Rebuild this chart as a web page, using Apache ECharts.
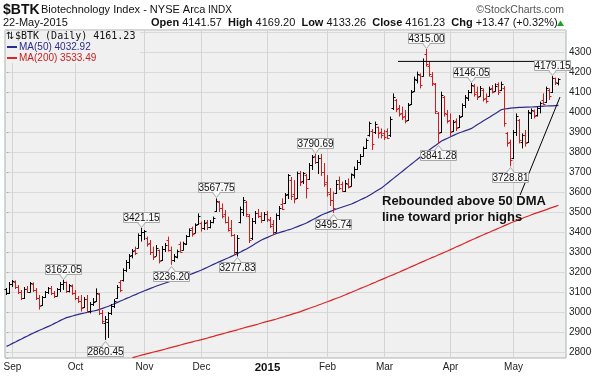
<!DOCTYPE html>
<html><head><meta charset="utf-8">
<script src="https://cdn.jsdelivr.net/npm/echarts@6/dist/echarts.min.js"></script>
<style>html,body{margin:0;padding:0;background:#fff}#c{width:599px;height:379px}</style>
</head><body><div id="c"></div>
<script>
// ---- data (index 0 = 28-Aug-2014 ... index 184 = 22-May-2015) ----
const open = [3112,3095,3140,3150,3125,3100,3070,3112,3100,3140,
3108,3070,3035,3075,3098,3118,3095,3080,3112,3140,
3148,3105,3130,3095,3070,3055,3025,3065,3005,3040,
3055,3090,2995,2945,2950,2995,3030,3070,3150,3160,
3210,3250,3285,3310,3320,3385,3400,3370,3345,3300,
3280,3310,3260,3315,3360,3310,3260,3275,3340,3310,
3340,3380,3420,3395,3440,3445,3420,3450,3425,3450,
3505,3550,3520,3490,3450,3420,3385,3300,3450,3500,
3550,3480,3370,3455,3495,3480,3460,3490,3460,3440,
3400,3485,3540,3545,3590,3660,3590,3570,3690,3655,
3680,3665,3735,3780,3750,3770,3700,3650,3590,3560,
3595,3660,3640,3605,3640,3630,3680,3715,3750,3780,
3820,3880,3905,3895,3925,3900,3890,3905,3880,4020,
4060,4020,3995,3980,3960,4040,4105,4160,4185,4180,
4290,4230,4180,4140,3995,3900,4075,3990,3960,3905,
3955,3925,3980,4035,4070,4100,4130,4100,4080,4110,
4070,4080,4120,4105,4140,4110,4120,3890,3850,3770,
3900,3960,3850,3880,3850,3995,4005,3985,4020,4060,
4050,4110,4100,4168,4141.57];
const high = [3120,3150,3160,3158,3135,3110,3125,3130,3150,3148,
3120,3085,3080,3105,3125,3130,3105,3120,3150,3162.05,
3152,3140,3138,3110,3080,3085,3075,3085,3050,3070,
3118,3095,3010,2980,3000,3040,3065,3135,3160,3218,
3260,3290,3315,3327,3393,3421.15,3410,3377,3360,3327,
3335,3312,3330,3345,3377,3327,3290,3312,3352,3352,
3385,3418,3427,3443,3493,3452,3460,3460,3460,3477,
3567.75,3555,3543,3510,3477,3460,3390,3385,3527,3575,
3555,3490,3470,3505,3515,3500,3500,3505,3475,3460,
3493,3530,3568,3595,3690,3675,3660,3702,3705,3700,
3690,3745,3785,3790.69,3785,3790,3745,3685,3620,3602,
3660,3677,3652,3660,3668,3693,3727,3760,3790,3827,
3868,3952,3915,3952,3927,3918,3910,3918,3977,4093,
4065,4035,4027,4010,4045,4110,4177,4202,4193,4268,
4315,4252,4200,4145,4000,4102,4080,4010,3993,3960,
3968,3985,4043,4085,4110,4146.05,4140,4127,4130,4118,
4093,4127,4135,4143,4148,4152,4130,3900,3862,3910,
3993,3965,3893,3910,4010,4018,4012,4027,4052,4093,
4127,4118,4179.15,4172,4169.20];
const low = [3085,3090,3125,3115,3090,3060,3065,3095,3098,3100,
3060,3012,3030,3070,3090,3085,3070,3078,3100,3110,
3095,3098,3085,3060,3045,3002,3020,2995,2993,3030,
3050,2985,2940,2860.45,2870,2985,3020,3065,3100,3152,
3200,3215,3268,3285,3318,3352,3360,3327,3285,3260,
3280,3243,3255,3300,3302,3236.20,3250,3268,3298,3308,
3335,3375,3377,3393,3435,3402,3410,3410,3418,3443,
3500,3500,3468,3443,3402,3377,3285,3277.83,3443,3480,
3475,3345,3360,3440,3470,3445,3455,3450,3420,3385,
3400,3460,3510,3540,3565,3560,3543,3565,3630,3640,
3568,3660,3710,3740,3690,3680,3627,3577,3530,3495.74,
3590,3610,3600,3600,3618,3627,3668,3710,3735,3777,
3815,3877,3810,3890,3868,3868,3860,3865,3875,4010,
4000,3977,3960,3943,3955,4035,4100,4143,4118,4177,
4227,4177,4130,3990,3841.28,3895,3977,3943,3877,3900,
3905,3920,3975,4020,4055,4093,4077,4060,4077,4052,
4043,4077,4093,4102,4085,4105,3927,3827,3728.81,3765,
3880,3843,3818,3827,3845,3965,3968,3977,3993,4035,
4045,4060,4095,4135,4133.26];
const close = [3092,3140,3152,3125,3100,3070,3115,3100,3142,3108,
3070,3030,3075,3098,3118,3095,3080,3112,3140,3150,
3105,3132,3095,3070,3055,3020,3065,3005,3040,3050,
3095,2995,2955,2965,2995,3030,3055,3125,3110,3210,
3250,3280,3305,3295,3385,3400,3405,3340,3300,3275,
3320,3255,3315,3335,3310,3260,3280,3305,3300,3345,
3378,3410,3390,3435,3480,3420,3445,3425,3450,3470,
3555,3520,3480,3450,3410,3385,3300,3370,3515,3560,
3490,3360,3455,3495,3480,3460,3490,3465,3430,3400,
3485,3520,3515,3585,3680,3580,3565,3690,3650,3690,
3620,3735,3775,3750,3770,3700,3640,3600,3560,3520,
3640,3620,3605,3645,3625,3685,3715,3750,3780,3820,
3860,3945,3840,3940,3890,3880,3875,3870,3965,4075,
4015,3990,3975,3955,4035,4100,4165,4190,4135,4255,
4240,4190,4145,4005,3890,4085,3995,3955,3900,3950,
3920,3975,4035,4075,4100,4135,4090,4075,4120,4065,
4055,4115,4100,4130,4100,4140,3945,3845,3760,3895,
3980,3860,3880,3845,4000,4010,3980,4020,4045,4040,
4120,4080,4170,4147.76,4161.23];
const ma50 = [2828,2835,2843,2850,2858,2865,2873,2880,2888,2895,
2902,2909,2915,2922,2928,2935,2943,2950,2958,2965,
2972,2976,2980,2984,2988,2992,2995,2998,3002,3005,
3008,3013,3018,3024,3029,3035,3041,3048,3055,3061,
3068,3074,3081,3087,3094,3100,3106,3112,3118,3124,
3130,3135,3140,3145,3150,3155,3160,3165,3170,3175,
3180,3186,3192,3198,3204,3210,3217,3224,3231,3238,
3245,3252,3258,3265,3271,3278,3285,3293,3300,3308,
3315,3324,3333,3342,3351,3360,3367,3373,3380,3386,
3393,3397,3402,3406,3411,3415,3421,3427,3433,3439,
3445,3453,3461,3469,3477,3485,3491,3497,3503,3509,
3515,3520,3525,3530,3535,3540,3547,3554,3561,3568,
3575,3584,3593,3602,3611,3620,3632,3644,3656,3668,
3680,3692,3704,3716,3728,3740,3752,3764,3776,3788,
3800,3811,3822,3833,3844,3855,3862,3869,3876,3883,
3890,3896,3901,3907,3912,3918,3927,3937,3946,3956,
3965,3974,3984,3993,4003,4012,4015,4017,4019,4021,
4022,4023,4023,4024,4024,4025,4026,4027,4028,4029,
4030,4031,4031,4032,4032.92];
const ma200Start = 42;
const ma200 = [2772,2776,2780,2784,2788,2792,2796,2800,2803,2807,
2811,2815,2819,2823,2827,2831,2835,2839,2843,2847,2851,2855,
2858,
2862,2866,2870,2874,2878,2883,2887,2891,2895,2899,2903,2907,2911,2916,2920,2924,
2928,
2932,2936,2940,2945,2949,2953,2957,2961,
2965,
2970,2974,2979,2983,2988,2993,
2997,
3002,3008,3013,3019,3024,3029,3035,
3040,
3046,3051,3057,3063,3069,3074,
3080,
3086,3093,3099,3105,3111,3118,3124,
3130,
3136,3143,3149,3156,3162,3168,3175,3181,3187,3194,
3200,
3207,3213,3220,3227,3233,3240,3247,3253,
3260,
3266,3273,3279,3286,3292,3299,3305,
3312,
3319,3326,3332,3339,3346,3353,3360,3366,3373,
3380,
3386,3393,3399,3406,3412,3419,3425,3432,3438,
3445,
3451,3457,3463,3469,3475,3480,3486,
3492,
3497,3502,3507,3512,3518,3523,3528,
3533.49];
const monthIdx = [2,23,46,65,87,107,126,148,169];
const monthLabels = ['Sep','Oct','Nov','Dec','2015','Feb','Mar','Apr','May'];
const yLabels = [2800,2900,3000,3100,3200,3300,3400,3500,3600,3700,3800,3900,4000,4100,4200,4300];
const peakIdx = [19,33,45,55,70,77,103,109,140,144,155,168,182];
const peakVal = [3162.05,2860.45,3421.15,3236.20,3567.75,3277.83,3790.69,3495.74,4315.00,3841.28,4146.05,3728.81,4179.15];
const peakSide = [1,-1,1,-1,1,-1,1,-1,1,-1,1,-1,1];
const resistance = [[130.5,4253],[189.5,4253]];
const trendLine = [[171.2,3585],[184.5,4075]];
const nSlots = 187;

// ---- chart ----
const FONT = '"Liberation Sans", Arial, sans-serif';
const cats = Array.from({length:nSlots},(_,i)=>String(i));
const ohlcData = open.map((o,i)=>[i,o,high[i],low[i],close[i],(i>0 && close[i]<close[i-1])?1:0]);
const ma200Data = cats.map((c,i)=> (i>=ma200Start && i-ma200Start<ma200.length) ? ma200[i-ma200Start] : null);
const chart = echarts.init(document.getElementById('c'));

function T(text,x,y,font,fill,align){
  return {type:'text',z:100,style:{text:text,x:x,y:y,font:font,fill:fill||'#000',
    textAlign:align||'left',align:align||'left',textVerticalAlign:'middle',verticalAlign:'middle'}};
}

chart.setOption({
  animation:false,
  backgroundColor:'#ffffff',
  grid:{left:5,right:33,top:30,bottom:21,show:true,backgroundColor:'#f0f0f0',borderColor:'#a3b5ad',borderWidth:1},
  xAxis:[{
    type:'category',data:cats,boundaryGap:true,
    axisLine:{show:false},axisTick:{show:false},splitLine:{show:false},
    axisLabel:{
      interval:(idx)=>monthIdx.indexOf(idx)>=0,
      formatter:(v,idx)=>{const k=monthIdx.indexOf(idx);if(k<0)return '';return k===4?'{y|2015}':monthLabels[k];},
      margin:4,color:'#222',fontSize:10,fontFamily:FONT,
      rich:{y:{fontWeight:'bold',fontSize:11.5,fontFamily:FONT,color:'#111'}}
    }
  },{type:'value',min:-0.5,max:nSlots-0.5,show:false}],
  yAxis:{
    type:'value',position:'right',min:2770,max:4410,splitNumber:16,
    axisLine:{show:false},
    axisTick:{show:true,length:2,lineStyle:{color:'#a3b5ad'}},
    axisLabel:{margin:3,color:'#222',fontSize:10,fontFamily:FONT,
      formatter:(v)=>yLabels.indexOf(Math.round(v))>=0?String(Math.round(v)):''},
    splitLine:{show:true,lineStyle:{color:'#d9d9d9',width:1}}
  },
  series:[
    { // month grid lines
      type:'custom',z:1,silent:true,data:monthIdx.map(i=>[i]),encode:{x:0},
      renderItem:(params,api)=>{
        const cs=params.coordSys; const x=Math.floor(api.coord([api.value(0),3000])[0])+0.5;
        return {type:'line',shape:{x1:x,y1:cs.y,x2:x,y2:cs.y+cs.height},style:{stroke:'#d4d4d4',lineWidth:1}};
      }
    },
    {type:'line',name:'MA(200)',data:ma200Data,symbol:'none',z:3,lineStyle:{color:'#dd2626',width:1.2},silent:true},
    {type:'line',name:'MA(50)',data:ma50,symbol:'none',z:3,lineStyle:{color:'#2b2b8e',width:1.2},silent:true},
    { // OHLC bars
      type:'custom',z:4,silent:true,data:ohlcData,encode:{x:0,y:[1,2,3,4]},
      renderItem:(params,api)=>{
        const i=api.value(0);
        const pO=api.coord([i,api.value(1)]),pH=api.coord([i,api.value(2)]),pL=api.coord([i,api.value(3)]),pC=api.coord([i,api.value(4)]);
        const x=Math.floor(pO[0])+0.5;
        const col=api.value(5)?'#d41c1c':'#000000';
        const yo=Math.round(pO[1]-0.5)+0.5, yc=Math.round(pC[1]-0.5)+0.5;
        const st={stroke:col,lineWidth:1};
        return {type:'group',children:[
          {type:'line',shape:{x1:x,y1:pH[1],x2:x,y2:pL[1]},style:st},
          {type:'line',shape:{x1:x-2,y1:yo,x2:x,y2:yo},style:st},
          {type:'line',shape:{x1:x,y1:yc,x2:x+2,y2:yc},style:st}
        ]};
      }
    },
    {type:'line',xAxisIndex:1,data:resistance,symbol:'none',clip:false,z:5,silent:true,lineStyle:{color:'#000',width:1}},
    {type:'line',xAxisIndex:1,data:trendLine,symbol:'none',clip:false,z:5,silent:true,lineStyle:{color:'#000',width:1}},
    { // price callouts
      type:'custom',z:6,silent:true,clip:false,
      data:peakIdx.map((i,k)=>[i,peakVal[k],peakSide[k]]),encode:{x:0,y:1},
      renderItem:(params,api)=>{
        const i=api.value(0),v=api.value(1),s=api.value(2);
        const p=api.coord([i,v]);
        const x=Math.floor(p[0])+0.5; const tip=Math.round(p[1])+0.5;
        const w=36,h=10; let tipY,base,top;
        if(s>0){tipY=tip-1;base=tipY-5;top=base-h;}else{tipY=tip+1;base=tipY+5;top=base;}
        const fill='#f7f7f7',stroke='#a9a9a9';
        return {type:'group',children:[
          {type:'rect',shape:{x:x-18,y:top,width:w,height:h},style:{fill:fill,stroke:stroke,lineWidth:1}},
          {type:'polygon',shape:{points:[[x-4,base],[x,tipY],[x+4,base]]},style:{fill:fill,stroke:stroke,lineWidth:1}},
          {type:'line',shape:{x1:x-3,y1:base,x2:x+3,y2:base},style:{stroke:fill,lineWidth:1}},
          {type:'text',style:{text:v.toFixed(2),x:x,y:top+h/2+0.5,font:'10px '+FONT,fill:'#111',
            textAlign:'center',align:'center',textVerticalAlign:'middle',verticalAlign:'middle'}}
        ]};
      }
    }
  ],
  graphic:[
    T('$BTK',3,10,'bold 14px '+FONT,'#111'),
    T('Biotechnology Index - NYSE Arca',41,10,'11px '+FONT,'#111'),
    T('INDX',208,10.5,'10px '+FONT,'#111'),
    T('\u00a9StockCharts.com',564,10,'10.5px '+FONT,'#555','right'),
    T('22-May-2015',3,23,'11px '+FONT,'#111'),
    {type:'text',z:100,style:{x:151,y:23,textVerticalAlign:'middle',verticalAlign:'middle',font:'11px '+FONT,fill:'#111',
      text:'{b|Open} 4141.57  {b|High} 4169.20  {b|Low} 4133.26  {b|Close} 4161.23  {b|Chg} +13.47 (+0.32%)',
      rich:{b:{fontWeight:'bold',fontSize:11,fontFamily:FONT,fill:'#111'}}}},
    {type:'polygon',z:100,shape:{points:[[557,26],[560.5,20.5],[564,26]]},style:{fill:'#22a022'}},
    {type:'rect',z:99,shape:{x:6,y:31,width:134,height:32},style:{fill:'#f0f0f0'}},
    T('\u21c5',6,36,'10px "DejaVu Sans"','#111'),
    T('$BTK (Daily) 4161.23',15,36,'10px "DejaVu Sans Mono"','#111'),
    {type:'rect',z:100,shape:{x:7,y:46,width:10,height:2},style:{fill:'#2b2b8e'}},
    T('MA(50) 4032.92',19,47,'10px '+FONT,'#2b2b8e'),
    {type:'rect',z:100,shape:{x:7,y:57,width:10,height:2},style:{fill:'#dd2626'}},
    T('MA(200) 3533.49',19,58,'10px '+FONT,'#cc1f1f'),
    T('Rebounded above 50 DMA',382,201,'bold 13px '+FONT,'#111'),
    T('line toward prior highs',382,217,'bold 13px '+FONT,'#111')
  ]
});
</script></body></html>
